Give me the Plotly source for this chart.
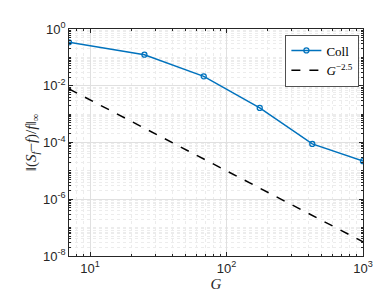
import numpy as np
import plotly.graph_objects as go

G_coll = [7, 25, 68, 175, 425, 1000]
err_coll = [0.34, 0.124, 0.0215, 0.00166, 8.9e-5, 2.2e-5]
G_ref = [7, 1000]
ref_exp = -2.5

y_tickvals = [1e0, 1e-2, 1e-4, 1e-6, 1e-8]
y_ticktext = ["10<sup>0</sup>", "10<sup>-2</sup>", "10<sup>-4</sup>", "10<sup>-6</sup>", "10<sup>-8</sup>"]
x_tickvals = [10, 100, 1000]
x_ticktext = ["10<sup>1</sup>", "10<sup>2</sup>", "10<sup>3</sup>"]

ref_vals = [g ** ref_exp for g in G_ref]

blue = "#0072BD"
axc = "#262626"
sans = "Liberation Sans"
serif = "Liberation Serif"

fig = go.Figure()
fig.add_trace(go.Scatter(
    x=G_coll, y=err_coll, mode="lines+markers", name="Coll",
    line=dict(color=blue, width=1.5),
    marker=dict(symbol="circle-open", size=5, color=blue, line=dict(width=1.3, color=blue)),
))
fig.add_trace(go.Scatter(
    x=G_ref, y=ref_vals, mode="lines", name="<i>G</i><sup>−2.5</sup>",
    line=dict(color="black", width=1.5, dash="dash"),
))

y_minor = []
for e in range(-8, 0):
    for m in range(1, 10):
        v = m * 10.0 ** e
        if m == 1 and e % 2 == 0:
            continue
        y_minor.append(v)
x_minor = []
for e in range(0, 3):
    for m in range(2, 10):
        x_minor.append(m * 10.0 ** e)

fig.update_xaxes(
    type="log", range=[np.log10(7), 3],
    tickvals=x_tickvals, ticktext=x_ticktext,
    ticks="inside", ticklen=4, tickcolor=axc, tickwidth=0.8,
    showline=True, linecolor=axc, linewidth=0.8, mirror="allticks",
    showgrid=True, gridcolor="#e0e0e0", gridwidth=0.8,
    minor=dict(tickvals=x_minor, ticks="inside", ticklen=2, tickcolor=axc,
               showgrid=True, gridcolor="#ececec", griddash="dot", gridwidth=0.6),
    tickfont=dict(family=sans, size=13, color=axc),
    title=dict(text="<i>G</i>", font=dict(family=serif, size=15, color=axc), standoff=2),
    zeroline=False,
)
fig.update_yaxes(
    type="log", range=[-8, 0],
    tickvals=y_tickvals, ticktext=y_ticktext,
    ticks="inside", ticklen=4, tickcolor=axc, tickwidth=0.8,
    showline=True, linecolor=axc, linewidth=0.8, mirror="allticks",
    showgrid=True, gridcolor="#e0e0e0", gridwidth=0.8,
    minor=dict(tickvals=y_minor, ticks="inside", ticklen=2, tickcolor=axc,
               showgrid=True, gridcolor="#ececec", griddash="dot", gridwidth=0.6),
    tickfont=dict(family=sans, size=13, color=axc),
    title=dict(text="‖(<i>S<sub>f</sub></i>−<i>f</i>)/<i>f</i>‖<sub>∞</sub>",
               font=dict(family=serif, size=15, color=axc), standoff=2),
    zeroline=False,
)
fig.update_layout(
    width=392, height=294,
    margin=dict(l=61, r=37, t=21, b=46),
    plot_bgcolor="white", paper_bgcolor="white",
    legend=dict(x=0.985, y=0.975, xanchor="right", yanchor="top",
                bordercolor=axc, borderwidth=0.8, bgcolor="white",
                font=dict(family=serif, size=13, color="black"),
                tracegroupgap=0, itemwidth=30),
    showlegend=True,
)
fig.write_html("out.html")
